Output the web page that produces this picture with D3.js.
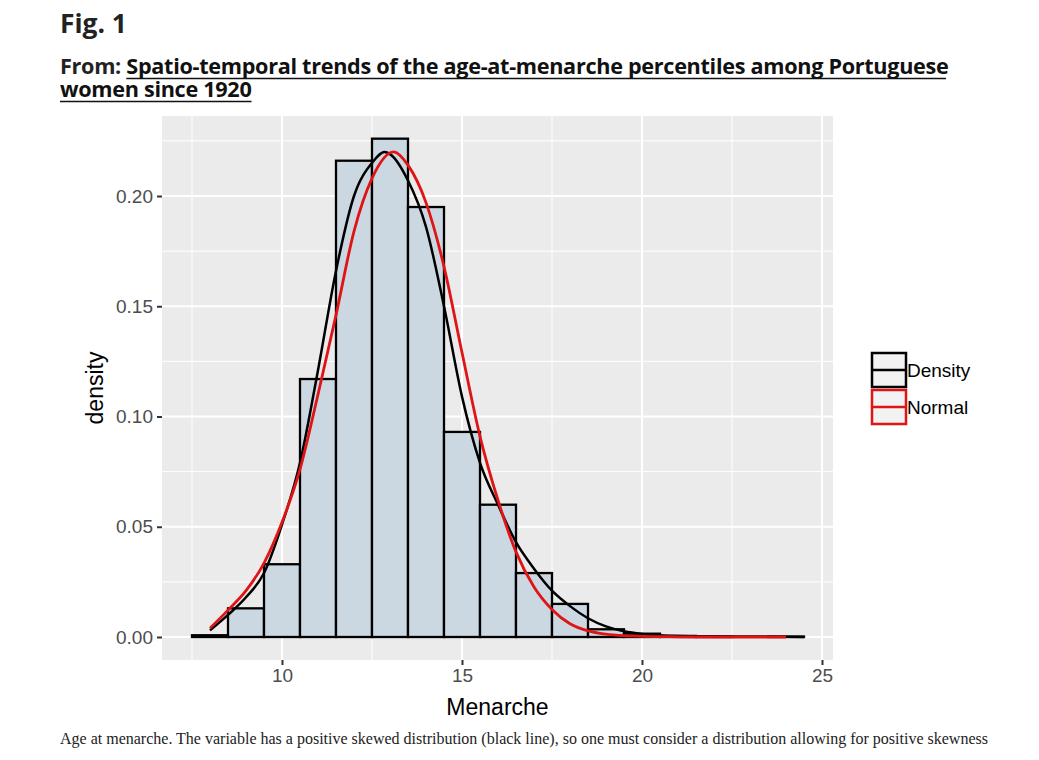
<!DOCTYPE html>
<html>
<head>
<meta charset="utf-8">
<script src="https://cdn.jsdelivr.net/npm/d3@7"></script>
<style>
  body { margin: 0; background: #fff; }
  svg { display: block; }
</style>
</head>
<body>
<div id="chart"></div>
<script>
// histogram bins (left edge, width 1) and densities
var binStarts = [7.5, 8.5, 9.5, 10.5, 11.5, 12.5, 13.5, 14.5, 15.5, 16.5, 17.5, 18.5, 19.5, 20.5, 21.5, 22.5, 23.5];
var binDensity = [0.0008, 0.013, 0.033, 0.117, 0.216, 0.226, 0.195, 0.093, 0.060, 0.029, 0.015, 0.0035, 0.0015, 0.0005, 0.0002, 0.0, 0.0002];

// black kernel density curve
var densX = [8.0, 8.5, 9.0, 9.5, 10.0, 10.5, 11.0, 11.5, 12.0, 12.5, 12.85, 13.0, 13.5, 14.0, 14.5, 15.0, 15.5, 16.0, 16.5, 17.0, 17.5, 18.0, 18.5, 19.0, 19.5, 20.0, 21.0, 22.0, 23.0, 24.0, 24.5];
var densY = [0.003, 0.010, 0.018, 0.029, 0.051, 0.079, 0.121, 0.166, 0.200, 0.215, 0.220, 0.219, 0.207, 0.186, 0.150, 0.109, 0.079, 0.060, 0.043, 0.031, 0.021, 0.014, 0.0085, 0.0048, 0.0026, 0.0014, 0.0005, 0.0003, 0.0002, 0.0001, 0.0];

// red normal curve
var normX = [8.0, 8.5, 9.0, 9.5, 10.0, 10.5, 11.0, 11.5, 12.0, 12.5, 13.1, 13.5, 14.0, 14.5, 15.0, 15.5, 16.0, 16.5, 17.0, 17.5, 18.0, 18.5, 19.0, 19.5, 20.0, 21.0, 22.0, 24.0];
var normY = [0.004, 0.0122, 0.021, 0.0335, 0.052, 0.076, 0.110, 0.146, 0.184, 0.208, 0.220, 0.214, 0.197, 0.168, 0.129, 0.091, 0.062, 0.0386, 0.0227, 0.0125, 0.006, 0.0028, 0.0013, 0.0006, 0.0003, 0.0001, 0.0, 0.0];

var xTicks = [10, 15, 20, 25];
var xMinor = [7.5, 12.5, 17.5, 22.5];
var yTicks = [0, 0.05, 0.10, 0.15, 0.20];
var yMinor = [0.025, 0.075, 0.125, 0.175, 0.225];

var legendItems = ["Density", "Normal"];
var legendColors = ["#000000", "#e01414"];

var titleText = "Fig. 1";
var fromText = "From: ";
var paperLine1 = "Spatio-temporal trends of the age-at-menarche percentiles among Portuguese";
var paperLine2 = "women since 1920";
var captionText = "Age at menarche. The variable has a positive skewed distribution (black line), so one must consider a distribution allowing for positive skewness";

var W = 1039, H = 760;
var panel = { left: 162, right: 833, top: 116, bottom: 660 };
var headFont = "'Open Sans', 'Noto Sans', sans-serif";
var plotFont = "'Liberation Sans', Arial, sans-serif";

var svg = d3.select("#chart").append("svg")
    .attr("width", W)
    .attr("height", H);

// scale font so the text spans a given width
function fitWidth(sel, target) {
    var w = sel.node().getComputedTextLength();
    var fs = parseFloat(sel.attr("font-size"));
    sel.attr("font-size", fs * target / w);
}

// header
var t1 = svg.append("text")
    .attr("x", 60).attr("y", 33)
    .attr("font-family", headFont)
    .attr("font-weight", "bold")
    .attr("font-size", 26)
    .attr("fill", "#222")
    .text(titleText);
fitWidth(t1, 67);

var sub1 = svg.append("text")
    .attr("x", 60).attr("y", 74)
    .attr("font-family", headFont)
    .attr("font-weight", "bold")
    .attr("font-size", 19)
    .attr("letter-spacing", -0.3)
    .attr("fill", "#222");
var fromSpan = sub1.append("tspan").text(fromText);
var linkSpan = sub1.append("tspan").attr("fill", "#111").text(paperLine1);
fitWidth(sub1, 886);
var fs = sub1.attr("font-size");
var fromW = fromSpan.node().getComputedTextLength();

var sub2 = svg.append("text")
    .attr("x", 60).attr("y", 97)
    .attr("font-family", headFont)
    .attr("font-weight", "bold")
    .attr("font-size", fs)
    .attr("letter-spacing", -0.3)
    .attr("fill", "#111")
    .text(paperLine2);
var sub2W = sub2.node().getComputedTextLength();

svg.append("line")
    .attr("x1", 60 + fromW).attr("x2", 946)
    .attr("y1", 78.5).attr("y2", 78.5)
    .attr("stroke", "#111").attr("stroke-width", 1.5);
svg.append("line")
    .attr("x1", 60).attr("x2", 60 + sub2W)
    .attr("y1", 101.5).attr("y2", 101.5)
    .attr("stroke", "#111").attr("stroke-width", 1.5);

// scales
var x = d3.scaleLinear()
    .domain([10 - (282 - panel.left) / 36, 10 + (panel.right - 282) / 36])
    .range([panel.left, panel.right]);
var y = d3.scaleLinear()
    .domain([-(panel.bottom - 637) / 2205, (637 - panel.top) / 2205])
    .range([panel.bottom, panel.top]);

// panel
svg.append("rect")
    .attr("x", panel.left).attr("y", panel.top)
    .attr("width", panel.right - panel.left)
    .attr("height", panel.bottom - panel.top)
    .attr("fill", "#ebebeb");

var grid = svg.append("g");
grid.selectAll(".xminor").data(xMinor).enter().append("line")
    .attr("x1", function (d) { return x(d); }).attr("x2", function (d) { return x(d); })
    .attr("y1", panel.top).attr("y2", panel.bottom)
    .attr("stroke", "#fff").attr("stroke-width", 1);
grid.selectAll(".yminor").data(yMinor).enter().append("line")
    .attr("y1", function (d) { return y(d); }).attr("y2", function (d) { return y(d); })
    .attr("x1", panel.left).attr("x2", panel.right)
    .attr("stroke", "#fff").attr("stroke-width", 1);
grid.selectAll(".xmajor").data(xTicks).enter().append("line")
    .attr("x1", function (d) { return x(d); }).attr("x2", function (d) { return x(d); })
    .attr("y1", panel.top).attr("y2", panel.bottom)
    .attr("stroke", "#fff").attr("stroke-width", 2);
grid.selectAll(".ymajor").data(yTicks).enter().append("line")
    .attr("y1", function (d) { return y(d); }).attr("y2", function (d) { return y(d); })
    .attr("x1", panel.left).attr("x2", panel.right)
    .attr("stroke", "#fff").attr("stroke-width", 2);

// bars
svg.append("g").selectAll("rect")
    .data(binStarts)
    .enter().append("rect")
    .attr("x", function (d) { return x(d); })
    .attr("width", function (d) { return x(d + 1) - x(d); })
    .attr("y", function (d, i) { return y(binDensity[i]); })
    .attr("height", function (d, i) { return y(0) - y(binDensity[i]); })
    .attr("fill", "#cbd8e2")
    .attr("stroke", "#000")
    .attr("stroke-width", 2.3);

// curves
var line = d3.line()
    .x(function (d) { return x(d[0]); })
    .y(function (d) { return y(d[1]); })
    .curve(d3.curveMonotoneX);

svg.append("path")
    .datum(d3.zip(densX, densY))
    .attr("d", line)
    .attr("fill", "none")
    .attr("stroke", legendColors[0])
    .attr("stroke-width", 2.5);

svg.append("path")
    .datum(d3.zip(normX, normY))
    .attr("d", line)
    .attr("fill", "none")
    .attr("stroke", legendColors[1])
    .attr("stroke-width", 2.8);

// axes
var xAxis = svg.append("g")
    .attr("transform", "translate(0," + panel.bottom + ")")
    .call(d3.axisBottom(x).tickValues(xTicks).tickSize(5).tickPadding(4).tickFormat(d3.format("d")));
var yAxis = svg.append("g")
    .attr("transform", "translate(" + panel.left + ",0)")
    .call(d3.axisLeft(y).tickValues(yTicks).tickSize(5).tickPadding(4).tickFormat(d3.format(".2f")));

[xAxis, yAxis].forEach(function (a) {
    a.select(".domain").remove();
    a.selectAll(".tick line").attr("stroke", "#333").attr("stroke-width", 2);
    a.selectAll(".tick text")
        .attr("font-family", plotFont)
        .attr("font-size", 19)
        .attr("fill", "#4d4d4d");
});

svg.append("text")
    .attr("x", (panel.left + panel.right) / 2).attr("y", 715)
    .attr("text-anchor", "middle")
    .attr("font-family", plotFont)
    .attr("font-size", 23)
    .attr("fill", "#000")
    .text("Menarche");

svg.append("text")
    .attr("transform", "translate(103," + (panel.top + panel.bottom) / 2 + ") rotate(-90)")
    .attr("text-anchor", "middle")
    .attr("font-family", plotFont)
    .attr("font-size", 23)
    .attr("fill", "#000")
    .text("density");

// legend
var legend = svg.append("g").attr("transform", "translate(871,352)");
var keys = legend.selectAll("g").data(legendItems).enter().append("g")
    .attr("transform", function (d, i) { return "translate(0," + (i * 37) + ")"; });
keys.append("rect")
    .attr("x", 1).attr("y", 1)
    .attr("width", 34).attr("height", 34)
    .attr("fill", "#f2f2f2")
    .attr("stroke", function (d, i) { return legendColors[i]; })
    .attr("stroke-width", 2.5);
keys.append("line")
    .attr("x1", 1).attr("x2", 35)
    .attr("y1", 18).attr("y2", 18)
    .attr("stroke", function (d, i) { return legendColors[i]; })
    .attr("stroke-width", 2.5);
keys.append("text")
    .attr("x", 36).attr("y", 25)
    .attr("font-family", plotFont)
    .attr("font-size", 19)
    .attr("fill", "#000")
    .text(function (d) { return d; });

// caption
var cap = svg.append("text")
    .attr("x", 60).attr("y", 744)
    .attr("font-family", "'Liberation Serif', 'DejaVu Serif', serif")
    .attr("font-size", 15)
    .attr("fill", "#222")
    .text(captionText);
fitWidth(cap, 928);
</script>
</body>
</html>
